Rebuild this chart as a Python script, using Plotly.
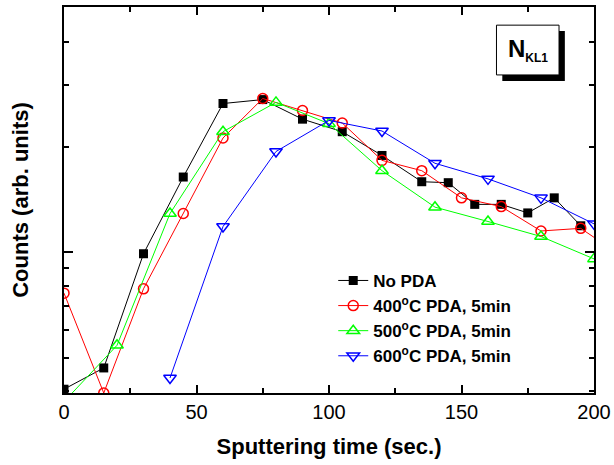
import plotly.graph_objects as go

# ---- data ----
black_x = [0, 15, 30, 45, 60, 75, 90, 105, 120, 135, 145, 155, 165, 175, 185, 195]
black_y = [4.06, 4.67, 9.90, 16.4, 26.6, 27.3, 24.0, 22.1, 18.9, 15.9, 15.8, 13.7, 13.7, 12.95, 14.3, 11.9]

red_x = [0, 15, 30, 45, 60, 75, 90, 105, 120, 135, 150, 165, 180, 195, 210]
red_y = [7.64, 3.96, 7.86, 12.9, 21.2, 27.5, 25.4, 23.4, 18.3, 17.1, 14.3, 13.5, 11.5, 11.7, 9.8]

green_x = [0, 20, 40, 60, 80, 100, 120, 140, 160, 180, 200]
green_y = [3.74, 5.42, 12.9, 22.1, 26.8, 23.3, 17.1, 13.45, 12.24, 11.09, 9.57]

blue_x = [40, 60, 80, 100, 120, 140, 160, 180, 200]
blue_y = [4.37, 11.84, 19.4, 23.8, 22.2, 17.95, 16.2, 14.3, 12.05]

names = ["No PDA", "400<sup>o</sup>C PDA, 5min", "500<sup>o</sup>C PDA, 5min", "600<sup>o</sup>C PDA, 5min"]
x_ticks = [0, 50, 100, 150, 200]
x_minor = [25, 75, 125, 175]
y_major = [10]
y_minor = [4, 5, 6, 7, 8, 9, 20, 30, 40, 50]

FONT = "Liberation Sans, Arial, sans-serif"

fig = go.Figure()
fig.add_trace(go.Scatter(x=black_x, y=black_y, name=names[0], mode="lines+markers",
                         line=dict(color="#000000", width=1),
                         marker=dict(symbol="square", size=9, color="#000000")))
fig.add_trace(go.Scatter(x=red_x, y=red_y, name=names[1], mode="lines+markers",
                         line=dict(color="#FF0000", width=1),
                         marker=dict(symbol="circle-open", size=10, color="#FF0000",
                                     line=dict(width=1.5, color="#FF0000"))))
fig.add_trace(go.Scatter(x=green_x, y=green_y, name=names[2], mode="lines+markers",
                         line=dict(color="#00FF00", width=1),
                         marker=dict(symbol="triangle-up-open", size=11, color="#00FF00",
                                     line=dict(width=1.5, color="#00FF00"))))
fig.add_trace(go.Scatter(x=blue_x, y=blue_y, name=names[3], mode="lines+markers",
                         line=dict(color="#0000FF", width=1),
                         marker=dict(symbol="triangle-down-open", size=11, color="#0000FF",
                                     line=dict(width=1.5, color="#0000FF"))))

fig.update_layout(
    width=614, height=465,
    margin=dict(l=64, r=20, t=7, b=72, autoexpand=False),
    paper_bgcolor="white", plot_bgcolor="white",
    font=dict(family=FONT, color="black"),
    showlegend=True,
    legend=dict(x=0.508, y=0.337, xanchor="left", yanchor="top",
                bgcolor="rgba(0,0,0,0)", borderwidth=0,
                font=dict(family=FONT, size=17, color="black", weight="bold"),
                tracegroupgap=0, itemwidth=30),
    xaxis=dict(range=[0, 200], tickvals=x_ticks, ticks="inside", ticklen=8, tickwidth=2,
               tickcolor="black", showline=True, linewidth=2, linecolor="black",
               mirror="allticks", showgrid=False, zeroline=False, automargin=False,
               tickfont=dict(family=FONT, size=20, color="black"),
               minor=dict(tickvals=x_minor, ticks="inside", ticklen=5, tickwidth=2, tickcolor="black",
                          showgrid=False),
               title=dict(text="Sputtering time (sec.)", standoff=17,
                          font=dict(family=FONT, size=22, color="black", weight="bold"))),
    yaxis=dict(type="log", range=[0.5977, 1.7007], tickvals=y_major, showticklabels=False,
               ticks="inside", ticklen=9, tickwidth=2, tickcolor="black",
               showline=True, linewidth=2, linecolor="black",
               mirror="allticks", showgrid=False, zeroline=False, automargin=False,
               minor=dict(tickvals=y_minor, ticks="inside", ticklen=5, tickwidth=2, tickcolor="black",
                          showgrid=False),
               title=dict(text="Counts (arb. units)", standoff=27,
                          font=dict(family=FONT, size=22, color="black", weight="bold"))),
)

# N_KL1 label box with drop shadow
fig.add_shape(type="rect", xref="paper", yref="paper", x0=0.827, x1=0.945, y0=0.808, y1=0.938,
              fillcolor="black", line=dict(width=0), layer="above")
fig.add_shape(type="rect", xref="paper", yref="paper", x0=0.816, x1=0.934, y0=0.824, y1=0.953,
              fillcolor="white", line=dict(width=1, color="black"), layer="above")
fig.add_annotation(xref="paper", yref="paper", x=0.875, y=0.888, xanchor="center", yanchor="middle",
                   text="N<sub><span style='font-size:12px'>KL1</span></sub>", showarrow=False,
                   font=dict(family=FONT, size=24, color="black", weight="bold"))

# remove the browser's default 8px page margin so the figure sits at the window's corner
fig.write_html("out.html", config={"displayModeBar": False},
               post_script="document.body.style.margin='0';")
